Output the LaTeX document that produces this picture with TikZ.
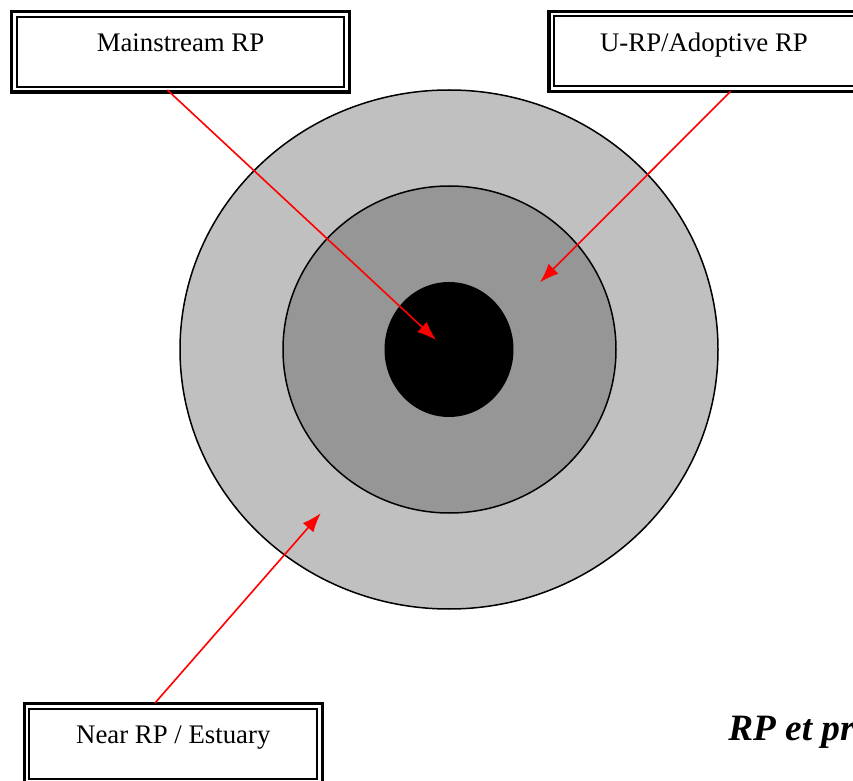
\documentclass[tikz,border=0pt]{standalone}
\usepackage{fontspec}
\setmainfont{Liberation Serif}
\usepackage{tikz}
\tikzset{>=latex}
\usetikzlibrary{arrows.meta}
\usetikzlibrary{calc}
\definecolor{outerring}{RGB}{192,192,192}
\definecolor{middlering}{RGB}{150,150,150}
\definecolor{pointer}{RGB}{255,0,0}

\begin{document}
\begin{tikzpicture}[x=0.5pt, y=-0.5pt]
    \tikzset{ring/.style={draw=black, line width=0.75pt}}
    \tikzset{labelbox/.style={draw, line width=1pt, inner sep=0pt, outer sep=0pt, minimum height=35pt, text height=8pt, text depth=8pt, font=\fontsize{13.4}{16}\selectfont}}
    \tikzset{frame/.style={line width=1.7pt}}
    \tikzset{pointerline/.style={pointer, line width=0.8pt, -{Latex[length=9.5pt, width=7pt]}}}
    \useasboundingbox (0, 0) rectangle (853, 781);
    \fill[white] (0, 0) rectangle (853, 781);
    \draw[ring, fill=outerring] (449, 349.5) ellipse [x radius=269, y radius=259.5];
    \draw[ring, fill=middlering] (449.5, 349.5) ellipse [x radius=166.5, y radius=163.5];
    \fill[black] (449, 349.5) ellipse [x radius=64.5, y radius=67.5];
    \node[labelbox, minimum width=163.8pt] (mainstream) at (180.5, 51.75) {Mainstream RP};
    \node[labelbox, minimum width=150pt] (adoptive) at (704, 51.5) {U-RP/Adoptive RP};
    \node[labelbox, minimum width=143.9pt] (near) at (173.3, 743.8) {Near RP / Estuary};
    \foreach \lbl in {mainstream, adoptive, near}
        \draw[frame] ([shift={(-5.2, -5.2)}]\lbl.north west) rectangle ([shift={(5.2, 5.2)}]\lbl.south east);
    \coordinate (core) at (436, 340);
    \coordinate (middle) at (540, 282.3);
    \coordinate (outer) at (320.7, 513.3);
    \draw[pointerline] ([shift={(-13.2, 3.2)}]mainstream.south) -- (core);
    \draw[pointerline] ([shift={(26.7, 4.8)}]adoptive.south) -- (middle);
    \draw[pointerline] ([shift={(-18.3, -5.8)}]near.north) -- (outer);
    \node[anchor=base west, inner sep=0pt, font=\fontsize{18.6}{22}\selectfont\bfseries\itshape] (caption) at (728, 740.7) {RP et pr};
\end{tikzpicture}
\end{document}
